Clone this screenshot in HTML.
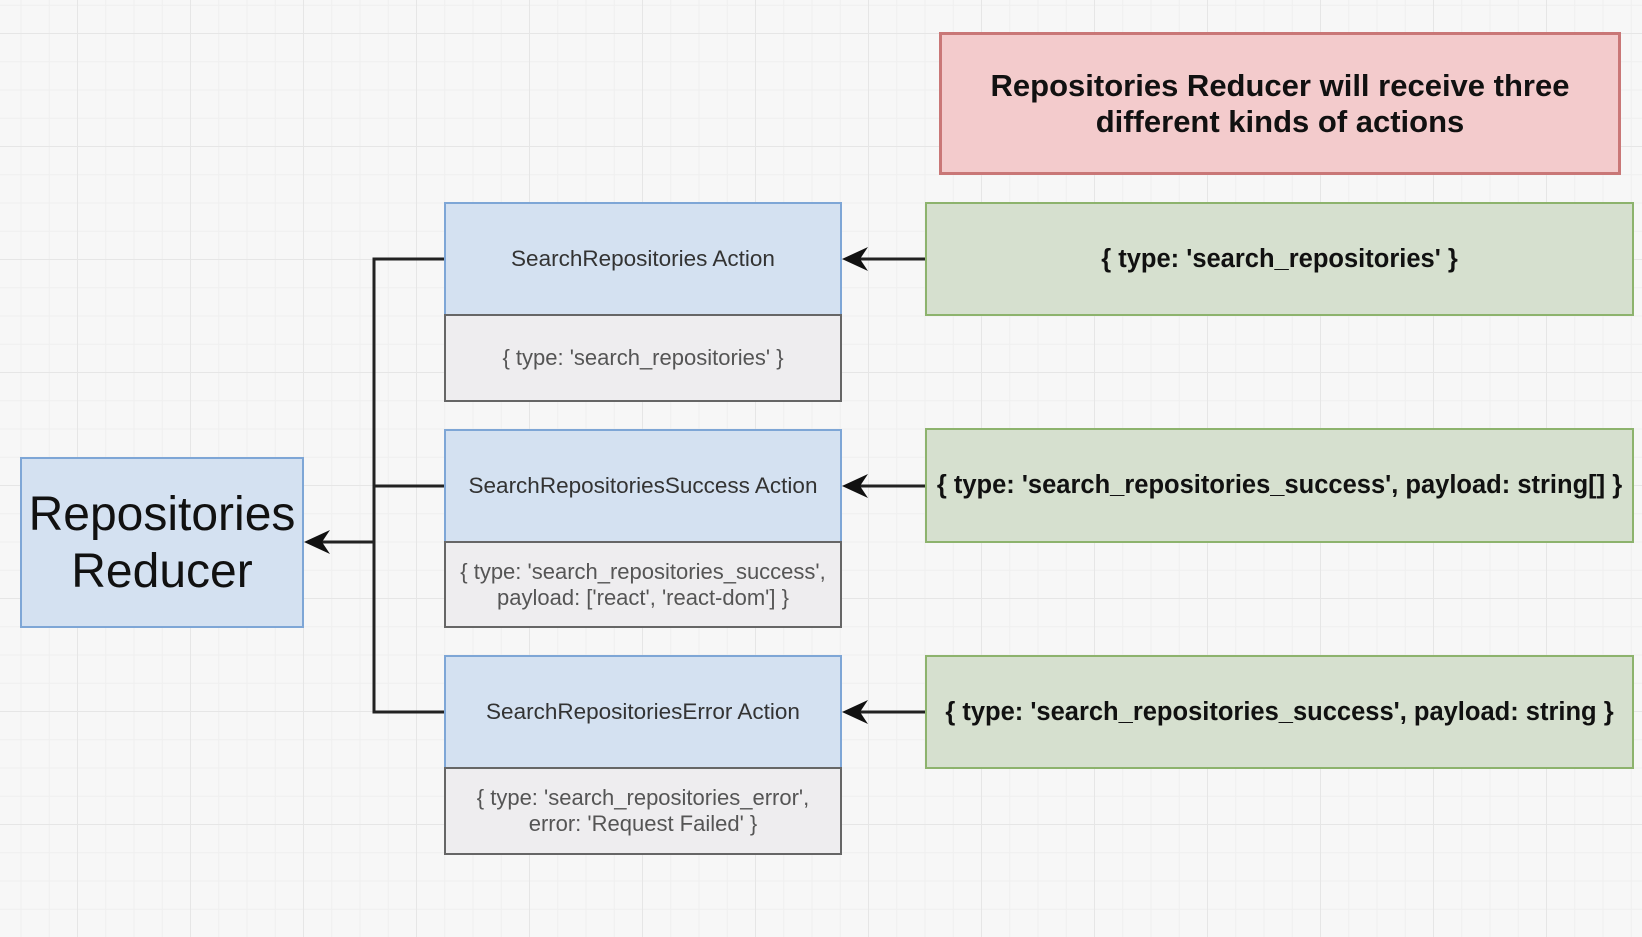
<!DOCTYPE html>
<html><head><meta charset="utf-8"><style>
html,body{margin:0;padding:0}
body{width:1642px;height:937px;position:relative;overflow:hidden;font-family:"Liberation Sans",sans-serif;
background-color:#f7f7f7;
background-image:linear-gradient(#e6e6e6 1px,transparent 1px),linear-gradient(90deg,#e6e6e6 1px,transparent 1px),linear-gradient(#efefef 1px,transparent 1px),linear-gradient(90deg,#efefef 1px,transparent 1px);
background-size:113px 113px,113px 113px,28.25px 28.25px,28.25px 28.25px;
background-position:0 33px,77px 0,0 33px,77px 0;}
.b{position:absolute;box-sizing:border-box;display:flex;align-items:center;justify-content:center;text-align:center;white-space:nowrap}
.blue{background:#d4e1f1;border:2px solid #7ea6d6;color:#333;font-size:22.5px}
.gray{background:#eeedef;border:2px solid #666;color:#555;font-size:22px;line-height:26px}
.green{background:#d6e0cf;border:2px solid #8db36d;color:#111;font-size:25.5px;font-weight:bold}
</style></head><body>
<div class="b" style="left:939px;top:32px;width:682px;height:143px;background:#f3cbcc;border:3px solid #c97777;font-size:31px;font-weight:bold;color:#111;line-height:36px">Repositories Reducer will receive three<br>different kinds of actions</div>
<div class="b blue" style="left:20px;top:457px;width:284px;height:171px;font-size:48px;color:#111;line-height:57px">Repositories<br>Reducer</div>

<div class="b blue" style="left:444px;top:202px;width:398px;height:114px">SearchRepositories Action</div>
<div class="b gray" style="left:444px;top:314px;width:398px;height:88px">{ type: 'search_repositories' }</div>
<div class="b blue" style="left:444px;top:429px;width:398px;height:114px">SearchRepositoriesSuccess Action</div>
<div class="b gray" style="left:444px;top:541px;width:398px;height:87px">{ type: 'search_repositories_success',<br>payload: ['react', 'react-dom'] }</div>
<div class="b blue" style="left:444px;top:655px;width:398px;height:114px">SearchRepositoriesError Action</div>
<div class="b gray" style="left:444px;top:767px;width:398px;height:88px">{ type: 'search_repositories_error',<br>error: 'Request Failed' }</div>

<div class="b green" style="left:925px;top:202px;width:709px;height:114px">{ type: 'search_repositories' }</div>
<div class="b green" style="left:925px;top:428px;width:709px;height:115px">{ type: 'search_repositories_success', payload: string[] }</div>
<div class="b green" style="left:925px;top:655px;width:709px;height:114px">{ type: 'search_repositories_success', payload: string }</div>

<svg width="1642" height="937" style="position:absolute;left:0;top:0" fill="none">
<g stroke="#222" stroke-width="3">
<path d="M444 259H374V712H444M374 486H444M374 542H320"/>
<path d="M925 259H860M925 486H860M925 712H860"/>
</g>
<g fill="#111">
<path d="M304 542L330 530L322 542L330 554Z"/>
<path d="M842 259L868 247L860 259L868 271Z"/>
<path d="M842 486L868 474L860 486L868 498Z"/>
<path d="M842 712L868 700L860 712L868 724Z"/>
</g>
</svg>
</body></html>
